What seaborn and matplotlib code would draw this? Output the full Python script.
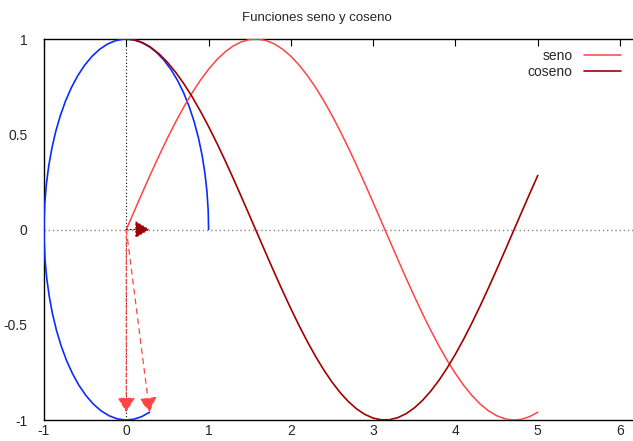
import numpy as np
import pandas as pd
import matplotlib
matplotlib.use('Agg')
import matplotlib.pyplot as plt
import seaborn as sns

# --- Datos (t de 0 a 5, paso 0.1) ---
t = [0.0, 0.1, 0.2, 0.3, 0.4, 0.5, 0.6, 0.7, 0.8, 0.9,
     1.0, 1.1, 1.2, 1.3, 1.4, 1.5, 1.6, 1.7, 1.8, 1.9,
     2.0, 2.1, 2.2, 2.3, 2.4, 2.5, 2.6, 2.7, 2.8, 2.9,
     3.0, 3.1, 3.2, 3.3, 3.4, 3.5, 3.6, 3.7, 3.8, 3.9,
     4.0, 4.1, 4.2, 4.3, 4.4, 4.5, 4.6, 4.7, 4.8, 4.9, 5.0]
seno = [0.000, 0.0998, 0.1987, 0.2955, 0.3894, 0.4794, 0.5646, 0.6442, 0.7174, 0.7833,
        0.8415, 0.8912, 0.9320, 0.9636, 0.9854, 0.9975, 0.9996, 0.9917, 0.9738, 0.9463,
        0.9093, 0.8632, 0.8085, 0.7457, 0.6755, 0.5985, 0.5155, 0.4274, 0.3350, 0.2392,
        0.1411, 0.0416, -0.0584, -0.1577, -0.2555, -0.3508, -0.4425, -0.5298, -0.6119, -0.6878,
        -0.7568, -0.8183, -0.8716, -0.9162, -0.9516, -0.9775, -0.9937, -0.9999, -0.9962, -0.9825,
        -0.9589]
coseno = [1.000, 0.9950, 0.9801, 0.9553, 0.9211, 0.8776, 0.8253, 0.7648, 0.6967, 0.6216,
          0.5403, 0.4536, 0.3624, 0.2675, 0.1700, 0.0707, -0.0292, -0.1288, -0.2272, -0.3233,
          -0.4161, -0.5048, -0.5885, -0.6663, -0.7374, -0.8011, -0.8569, -0.9041, -0.9422, -0.9710,
          -0.9900, -0.9991, -0.9983, -0.9875, -0.9668, -0.9365, -0.8968, -0.8481, -0.7910, -0.7259,
          -0.6536, -0.5748, -0.4903, -0.4008, -0.3073, -0.2108, -0.1122, -0.0124, 0.0875, 0.1865,
          0.2837]

# punto final de la curva (t = 5) para las flechas
punto_x = coseno[-1]
punto_y = seno[-1]

x_ticks = [-1, 0, 1, 2, 3, 4, 5, 6]
y_ticks = [-1, -0.5, 0, 0.5, 1]
y_labels = ['-1', '-0.5', '0', '0.5', '1']

C_SENO = '#ff4444'
C_COSENO = '#a00000'
C_CIRC = '#0a2cff'

sns.set_theme(style='white')
plt.rcParams['font.family'] = ['Liberation Sans', 'DejaVu Sans']
plt.rcParams['axes.unicode_minus'] = False
plt.rcParams['xtick.direction'] = 'in'
plt.rcParams['ytick.direction'] = 'in'

df = pd.DataFrame({'t': t, 'seno': seno, 'coseno': coseno})

fig = plt.figure(figsize=(6.33, 4.41), dpi=100)
ax = fig.add_axes([44 / 633, 21 / 441, 599.4 / 633, 381 / 441])

# ejes por el cero
ax.axhline(0, color='#888888', lw=1.0, ls=(0, (1, 2)), zorder=1)
ax.axvline(0, color='black', lw=0.8, ls=(0, (1, 2)), zorder=1)

sns.lineplot(data=df, x='coseno', y='seno', sort=False, color=C_CIRC,
             lw=1.2, ax=ax, estimator=None, zorder=3)
sns.lineplot(data=df, x='t', y='seno', color=C_SENO, lw=1.1, ax=ax,
             estimator=None, label='seno', zorder=3)
sns.lineplot(data=df, x='t', y='coseno', color=C_COSENO, lw=1.2, ax=ax,
             estimator=None, label='coseno', zorder=3)

# flechas
estilo = '-|>,head_length=0.75,head_width=0.45'
ax.annotate('', xy=(0, punto_y), xytext=(0, 0),
            arrowprops=dict(arrowstyle=estilo, color=C_SENO, lw=0.9,
                            ls=(0, (3, 2)), shrinkA=0, shrinkB=0), zorder=4)
ax.annotate('', xy=(punto_x, punto_y), xytext=(0, 0),
            arrowprops=dict(arrowstyle=estilo, color=C_SENO, lw=0.9,
                            ls=(0, (4, 4)), shrinkA=0, shrinkB=0), zorder=4)
ax.annotate('', xy=(punto_x, 0), xytext=(0, 0),
            arrowprops=dict(arrowstyle=estilo, color=C_COSENO, lw=0.9,
                            ls=(0, (1, 2)), shrinkA=0, shrinkB=0), zorder=4)

ax.set_xlim(-1, 2 * np.pi)
ax.set_ylim(-1, 1)
ax.set_xticks(x_ticks)
ax.set_yticks(y_ticks)
ax.set_yticklabels(y_labels)
ax.set_xlabel('')
ax.set_ylabel('')
ax.tick_params(axis='both', which='both', top=True, right=True, length=5,
               width=0.8, color='black', labelsize=10)
ax.tick_params(axis='x', pad=3)
ax.tick_params(axis='y', pad=12)
for s in ax.spines.values():
    s.set_color('black')
    s.set_linewidth(1.0)

leg = ax.legend(loc='upper left', bbox_to_anchor=(478 / 599.4, 1 - 4 / 381),
                frameon=False, markerfirst=False, fontsize=10,
                handlelength=2.7, handletextpad=0.8, labelspacing=0.15,
                borderaxespad=0, alignment='right')
for txt in leg.get_texts():
    txt.set_ha('right')

fig.text(0.5, 1 - 18 / 441, 'Funciones seno y coseno', ha='center',
         va='center', fontsize=9.5)

fig.savefig('out.png', dpi=100)
